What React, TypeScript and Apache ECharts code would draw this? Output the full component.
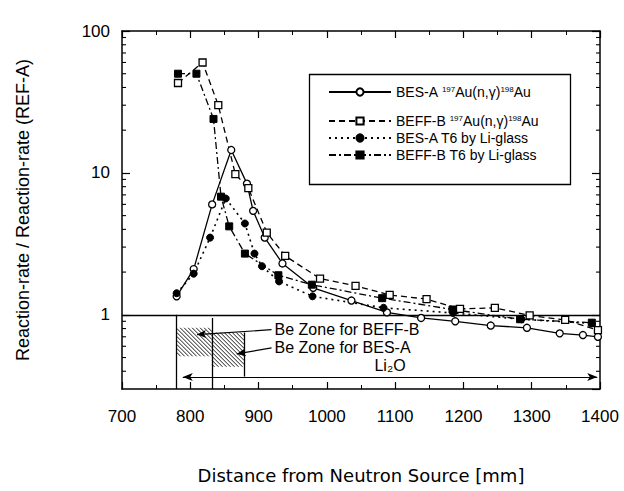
import React, { useEffect, useRef } from 'react';
import * as echarts from 'echarts';

// ---- data ----
const besAAuX = [780, 805, 832, 860, 883, 892, 909, 935, 980, 1036, 1088, 1138, 1188, 1240, 1293, 1341, 1375, 1397];
const besAAuY = [1.35, 2.1, 6.0, 14.5, 8.4, 5.4, 3.5, 2.3, 1.55, 1.26, 1.04, 0.95, 0.9, 0.84, 0.81, 0.74, 0.72, 0.7];

const beffBAuX = [782, 818, 841, 866, 885, 912, 939, 990, 1042, 1092, 1146, 1195, 1246, 1297, 1349, 1397];
const beffBAuY = [43, 60, 30, 9.8, 7.8, 3.8, 2.6, 1.8, 1.6, 1.38, 1.29, 1.1, 1.12, 0.99, 0.92, 0.78];

const besAT6X = [780, 805, 829, 852, 880, 894, 905, 930, 979, 1083, 1185, 1285, 1388];
const besAT6Y = [1.42, 1.95, 3.5, 6.6, 4.4, 2.7, 2.2, 1.72, 1.35, 1.12, 1.03, 0.93, 0.87];

const beffBT6X = [782, 809, 834, 845, 857, 880, 929, 978, 1081, 1184, 1283, 1388];
const beffBT6Y = [50, 50, 24, 6.8, 4.2, 2.7, 1.9, 1.63, 1.31, 1.09, 0.93, 0.88];

const seriesNames = [
  'BES-A 197Au(n,γ)198Au',
  'BEFF-B 197Au(n,γ)198Au',
  'BES-A T6 by Li-glass',
  'BEFF-B T6 by Li-glass',
];

const xMin = 700;
const xMax = 1400;
const yMin = 0.3;
const yMax = 100;
const yMinorTicks = [0.4, 0.5, 0.6, 0.7, 0.8, 0.9, 2, 3, 4, 5, 6, 7, 8, 9, 20, 30, 40, 50, 60, 70, 80, 90];

// Be zones: [x0, x1, yBottom, yTop]
const beZones = [
  [780, 832, 0.51, 0.81],
  [832, 879, 0.43, 0.75],
];
// vertical boundary lines: [x, yTop, yBottom]
const zoneLines = [
  [780, 1, 0.3],
  [832, 0.95, 0.3],
  [879, 0.75, 0.367],
];
const zoneArrowLabels = ['Be Zone for BEFF-B', 'Be Zone for BES-A'];
// arrow: [xTip, yTip, xTail, yTail]
const zoneArrows = [
  [810, 0.725, 919, 0.785],
  [868, 0.53, 919, 0.585],
];
const li2oLabel = 'Li₂O';
const li2oArrow = [789, 1396, 0.365];

const FONT = 'Liberation Sans, Arial, sans-serif';

function legendFormatter(name: string) {
  if (name.indexOf('197Au') >= 0) {
    const head = name.split(' ')[0];
    return `{t|${head} }{s|197}{t|Au(n,γ)}{s|198}{t|Au}`;
  }
  return `{t|${name}}`;
}

const legendRich = {
  t: { fontSize: 14, fontFamily: FONT, color: '#000' },
  s: { fontSize: 8, fontFamily: FONT, color: '#000', padding: [0, 0, 6, 0] },
};

export default function App() {
  const ref = useRef<HTMLDivElement>(null);
  useEffect(() => {
    if (!ref.current) return;
    const chart = echarts.init(ref.current, undefined, { renderer: 'svg' });

    const mk = (xs: number[], ys: number[]) => xs.map((x, i) => [x, ys[i]]);

    const lineBase = {
      type: 'line',
      xAxisIndex: 0,
      yAxisIndex: 0,
      symbolSize: 7,
      z: 5,
    };

    const li2oLabelStyle = {
      position: 'middle',
      backgroundColor: '#fff',
      padding: [0, 4],
      fontSize: 16,
      color: '#000',
      fontFamily: FONT,
      formatter: '{b}',
    };

    const option: any = {
      animation: false,
      backgroundColor: '#fff',
      grid: { left: 122, right: 24, top: 31, bottom: 102, containLabel: false },
      xAxis: [
        {
          type: 'value',
          min: xMin,
          max: xMax,
          interval: 100,
          position: 'bottom',
          name: 'Distance from Neutron Source [mm]',
          nameLocation: 'middle',
          nameGap: 77,
          nameTextStyle: { fontFamily: 'DejaVu Sans, sans-serif', fontSize: 18, color: '#000' },
          axisLine: { show: true, lineStyle: { color: '#000', width: 1.5 } },
          axisTick: { show: true, inside: true, length: 7, lineStyle: { color: '#000', width: 1.2 } },
          minorTick: { show: true, splitNumber: 2, length: 4, lineStyle: { color: '#000', width: 1 } },
          axisLabel: { fontFamily: FONT, fontSize: 17, color: '#000', margin: 19, formatter: (v: number) => String(v) },
          splitLine: { show: false },
        },
        {
          type: 'value',
          min: xMin,
          max: xMax,
          interval: 100,
          position: 'top',
          axisLine: { show: true, lineStyle: { color: '#000', width: 1.5 } },
          axisTick: { show: true, inside: true, length: 7, lineStyle: { color: '#000', width: 1.2 } },
          minorTick: { show: true, splitNumber: 2, length: 4, lineStyle: { color: '#000', width: 1 } },
          axisLabel: { show: false },
          splitLine: { show: false },
        },
      ],
      yAxis: [
        {
          type: 'log',
          logBase: 10,
          min: yMin,
          max: yMax,
          position: 'left',
          name: 'Reaction-rate / Reaction-rate (REF-A)',
          nameLocation: 'middle',
          nameGap: 90,
          nameTextStyle: { fontFamily: FONT, fontSize: 18, color: '#000' },
          axisLine: { show: true, lineStyle: { color: '#000', width: 1.5 } },
          axisTick: { show: true, inside: true, length: 8, lineStyle: { color: '#000', width: 1.2 } },
          axisLabel: {
            fontFamily: FONT,
            fontSize: 17,
            color: '#000',
            margin: 12,
            showMinLabel: false,
            formatter: (v: number) => {
              const l = Math.log10(v);
              return Math.abs(l - Math.round(l)) < 1e-6 ? String(Math.round(v)) : '';
            },
          },
          splitLine: { show: false },
        },
        {
          type: 'log',
          logBase: 10,
          min: yMin,
          max: yMax,
          position: 'right',
          axisLine: { show: true, lineStyle: { color: '#000', width: 1.5 } },
          axisTick: { show: true, inside: true, length: 8, lineStyle: { color: '#000', width: 1.2 } },
          axisLabel: { show: false },
          splitLine: { show: false },
        },
      ],
      legend: [
        {
          left: 328,
          top: 85,
          orient: 'vertical',
          itemWidth: 62,
          itemHeight: 9,
          itemGap: 0,
          padding: 0,
          data: [seriesNames[0]],
          formatter: legendFormatter,
          textStyle: { rich: legendRich, color: '#000' },
        },
        {
          left: 328,
          top: 114,
          orient: 'vertical',
          itemWidth: 62,
          itemHeight: 9,
          itemGap: 3,
          padding: 0,
          data: [seriesNames[1], seriesNames[2], seriesNames[3]],
          formatter: legendFormatter,
          textStyle: { rich: legendRich, color: '#000' },
        },
      ],
      graphic: [
        {
          type: 'rect',
          left: 307,
          top: 72,
          shape: { width: 261, height: 110 },
          style: { fill: 'none', stroke: '#000', lineWidth: 1.3 },
          z: 10,
        },
      ],
      series: [
        {
          ...lineBase,
          name: seriesNames[0],
          data: mk(besAAuX, besAAuY),
          symbol: 'circle',
          lineStyle: { color: '#000', width: 1.3, type: 'solid' },
          itemStyle: { color: '#fff', borderColor: '#000', borderWidth: 1.3 },
        },
        {
          ...lineBase,
          name: seriesNames[1],
          data: mk(beffBAuX, beffBAuY),
          symbol: 'rect',
          lineStyle: { color: '#000', width: 1.3, type: [6, 4] },
          itemStyle: { color: '#fff', borderColor: '#000', borderWidth: 1.3 },
        },
        {
          ...lineBase,
          name: seriesNames[2],
          data: mk(besAT6X, besAT6Y),
          symbol: 'circle',
          lineStyle: { color: '#000', width: 1.6, type: [2, 4] },
          itemStyle: { color: '#000', borderColor: '#000', borderWidth: 1 },
        },
        {
          ...lineBase,
          name: seriesNames[3],
          data: mk(beffBT6X, beffBT6Y),
          symbol: 'rect',
          lineStyle: { color: '#000', width: 1.3, type: [7, 3, 2, 3] },
          itemStyle: { color: '#000', borderColor: '#000', borderWidth: 1 },
        },
        {
          type: 'custom',
          name: 'zones',
          xAxisIndex: 0,
          yAxisIndex: 0,
          silent: true,
          z: 2,
          encode: { x: [0, 1], y: [2, 3] },
          data: beZones,
          renderItem: (params: any, api: any) => {
            const p0 = api.coord([api.value(0), api.value(3)]);
            const p1 = api.coord([api.value(1), api.value(2)]);
            const L = p0[0], T = p0[1], R = p1[0], B = p1[1];
            const children: any[] = [];
            const step = 4;
            for (let c = T - R; c <= B - L; c += step) {
              const xa = Math.max(L, T - c);
              const xb = Math.min(R, B - c);
              if (xb > xa) {
                children.push({
                  type: 'line',
                  shape: { x1: xa, y1: xa + c, x2: xb, y2: xb + c },
                  style: { stroke: '#000', lineWidth: 0.9 },
                });
              }
            }
            return { type: 'group', children };
          },
          markLine: {
            silent: true,
            symbol: 'none',
            animation: false,
            lineStyle: { color: '#000', width: 1.2, type: 'solid' },
            label: {
              show: true,
              position: 'end',
              formatter: '{b}',
              fontFamily: FONT,
              fontSize: 16,
              color: '#000',
              distance: 3,
            },
            data: [
              ...zoneArrows.map((a, i) => [
                { coord: [a[0], a[1]], symbol: 'arrow', symbolSize: [6, 9], name: zoneArrowLabels[i] },
                { coord: [a[2], a[3]], symbol: 'none', name: zoneArrowLabels[i] },
              ]),
              [
                { coord: [li2oArrow[0], li2oArrow[2]], symbol: 'arrow', symbolSize: [6, 10], name: li2oLabel, label: li2oLabelStyle },
                { coord: [li2oArrow[1], li2oArrow[2]], symbol: 'arrow', symbolSize: [6, 10], name: li2oLabel, label: li2oLabelStyle },
              ],
            ],
          },
        },
        {
          type: 'custom',
          name: 'minorTicks',
          xAxisIndex: 0,
          yAxisIndex: 0,
          silent: true,
          z: 3,
          encode: { x: 0, y: 1 },
          data: yMinorTicks.map((v) => [xMin, v]),
          renderItem: (params: any, api: any) => {
            const y = api.coord([xMin, api.value(1)])[1];
            const cs = params.coordSys;
            return {
              type: 'group',
              children: [
                { type: 'line', shape: { x1: cs.x, y1: y, x2: cs.x + 4, y2: y }, style: { stroke: '#000', lineWidth: 1.1 } },
                { type: 'line', shape: { x1: cs.x + cs.width, y1: y, x2: cs.x + cs.width - 4, y2: y }, style: { stroke: '#000', lineWidth: 1.1 } },
              ],
            };
          },
          markLine: {
            silent: true,
            symbol: 'none',
            animation: false,
            label: { show: false },
            lineStyle: { color: '#000', width: 1.3, type: 'solid' },
            data: [
              { yAxis: 1 },
              ...zoneLines.map((l) => [
                { coord: [l[0], l[1]] },
                { coord: [l[0], l[2]] },
              ]),
            ],
          },
        },
      ],
    };

    chart.setOption(option);
    return () => chart.dispose();
  }, []);

  return (
    <div
      ref={ref}
      style={{ position: 'fixed', left: 0, top: 0, width: 624, height: 491, background: '#fff' }}
    />
  );
}
